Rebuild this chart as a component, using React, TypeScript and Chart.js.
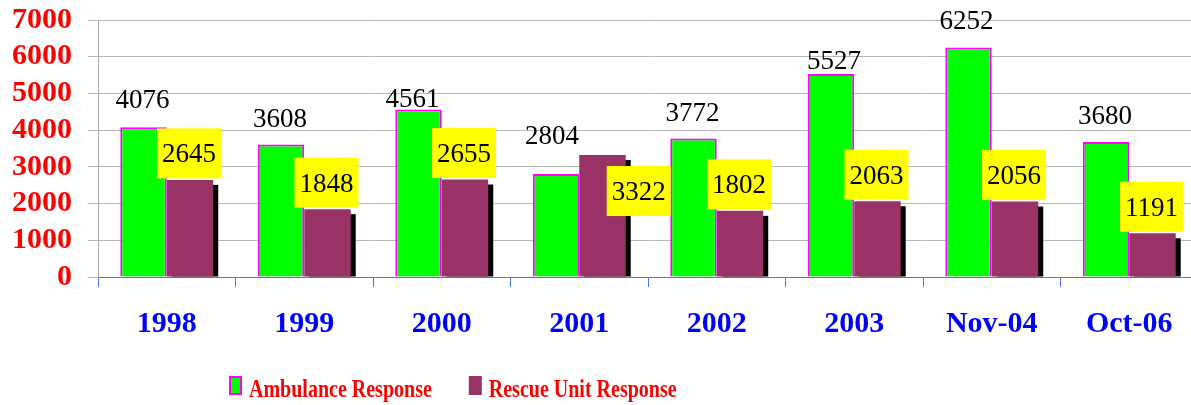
import React, { useEffect, useRef } from 'react';
import { Chart, registerables } from 'chart.js';

Chart.register(...registerables);

// ---- data ----
const categories = ['1998', '1999', '2000', '2001', '2002', '2003', 'Nov-04', 'Oct-06'];
const ambulanceValues = [4076, 3608, 4561, 2804, 3772, 5527, 6252, 3680];
const rescueValues = [2645, 1848, 2655, 3322, 1802, 2063, 2056, 1191];
const seriesNames = ['Ambulance Response', 'Rescue Unit Response'];
const yTickValues = [0, 1000, 2000, 3000, 4000, 5000, 6000, 7000];

// ---- label placement tweaks (pixels / side), kept apart from the data ----
const ambLabelLift = [19, 18, 3, 30, 18, 5, 18, 18];
const ambLabelShift = [-1, -1, -6, -4, -1, 3, -2, -1];
const rescueLabelSide = ['above', 'above', 'above', 'right', 'above', 'above', 'above', 'above'];

const SERIF = '"Liberation Serif", "Times New Roman", serif';
const GREEN = '#00FF00';
const MAGENTA = '#FF00FF';
const MAROON = '#993366';
const YELLOW = '#FFFF00';

export default function App() {
  const ref = useRef<HTMLCanvasElement>(null);

  useEffect(() => {
    document.body.style.margin = '0';
    document.body.style.overflow = 'hidden';
    const canvas = ref.current!;

    const shadowPlugin = {
      id: 'barShadow',
      beforeDatasetDraw(chart: any, args: any) {
        if (args.index !== 1) return;
        const ctx = chart.ctx;
        const meta = chart.getDatasetMeta(1);
        ctx.save();
        ctx.fillStyle = '#000000';
        meta.data.forEach((bar: any) => {
          const { x, y, base, width } = bar.getProps(['x', 'y', 'base', 'width'], true);
          ctx.fillRect(x - width / 2 + 5, y + 5, width, base - y - 5);
        });
        ctx.restore();
      },
    };

    const labelPlugin = {
      id: 'valueLabels',
      afterDatasetsDraw(chart: any) {
        const ctx = chart.ctx;
        ctx.save();
        ctx.font = `27px ${SERIF}`;
        ctx.textAlign = 'center';
        ctx.textBaseline = 'alphabetic';
        const m0 = chart.getDatasetMeta(0);
        m0.data.forEach((bar: any, i: number) => {
          const { x, y } = bar.getProps(['x', 'y'], true);
          ctx.fillStyle = '#000000';
          ctx.fillText(String(ambulanceValues[i]), x + ambLabelShift[i], y - ambLabelLift[i]);
        });
        const m1 = chart.getDatasetMeta(1);
        m1.data.forEach((bar: any, i: number) => {
          const { x, y, width } = bar.getProps(['x', 'y', 'width'], true);
          const text = String(rescueValues[i]);
          const tw = ctx.measureText(text).width;
          const bw = tw + 10;
          const bh = 50;
          let bx: number, by: number;
          if (rescueLabelSide[i] === 'right') {
            bx = x + width / 2 - 19;
            by = y + 11;
          } else {
            bx = x - bw / 2 - 1;
            by = y - 1.5 - bh;
          }
          ctx.fillStyle = YELLOW;
          ctx.fillRect(bx, by, bw, bh);
          ctx.fillStyle = '#000000';
          ctx.fillText(text, bx + bw / 2, by + bh / 2 + 9);
        });
        ctx.restore();
      },
    };

    const legendPlugin = {
      id: 'customLegend',
      afterDraw(chart: any) {
        const ctx = chart.ctx;
        const colors = [GREEN, MAROON];
        let lx = 229;
        const top = 376;
        ctx.save();
        seriesNames.forEach((name, i) => {
          ctx.fillStyle = colors[i];
          ctx.fillRect(lx, top, 13, 19);
          if (i === 0) {
            ctx.strokeStyle = MAGENTA;
            ctx.lineWidth = 2;
            ctx.strokeRect(lx + 1, top + 1, 11, 17);
          }
          ctx.font = `bold 20px ${SERIF}`;
          const tx = lx + 20;
          ctx.save();
          ctx.translate(tx, 397);
          ctx.scale(1, 1.3);
          ctx.fillStyle = '#FF0000';
          ctx.textAlign = 'left';
          ctx.textBaseline = 'alphabetic';
          ctx.fillText(name, 0, 0);
          ctx.restore();
          lx = tx + ctx.measureText(name).width + 37;
        });
        ctx.restore();
      },
    };

    const chart = new Chart(canvas, {
      type: 'bar',
      data: {
        labels: categories,
        datasets: [
          {
            label: seriesNames[0],
            data: ambulanceValues,
            backgroundColor: GREEN,
            borderColor: MAGENTA,
            borderWidth: 2,
            barPercentage: 1,
            categoryPercentage: 0.676,
          },
          {
            label: seriesNames[1],
            data: rescueValues,
            backgroundColor: MAROON,
            borderWidth: 0,
            barPercentage: 1,
            categoryPercentage: 0.676,
          },
        ],
      },
      options: {
        animation: false,
        responsive: false,
        layout: { padding: { left: 12, top: 20, right: 2, bottom: 64 } },
        plugins: {
          legend: { display: false },
          tooltip: { enabled: false },
        },
        scales: {
          x: {
            afterFit: (axis: any) => {
              axis.paddingLeft = 0;
              axis.paddingRight = 0;
              axis.height = 64;
            },
            grid: {
              offset: true,
              drawOnChartArea: false,
              drawTicks: true,
              tickLength: 10,
              color: '#4d70f0',
            },
            border: { color: '#4d70f0', width: 1 },
            ticks: {
              color: '#0000FF',
              font: { family: SERIF, size: 30, weight: 'bold' },
              padding: 19,
              maxRotation: 0,
              autoSkip: false,
            },
          },
          y: {
            min: 0,
            max: 7000,
            afterBuildTicks: (axis: any) => {
              axis.ticks = yTickValues.map((v) => ({ value: v }));
            },
            afterFit: (axis: any) => {
              axis.paddingTop = 0;
              axis.paddingBottom = 0;
              axis.width = 86;
            },
            grid: { color: '#b8b8b8', tickLength: 10 },
            border: { color: '#a8a8a8' },
            ticks: {
              color: '#FF0000',
              font: { family: SERIF, size: 30, weight: 'bold' },
              padding: 16,
              autoSkip: false,
              callback: (v: any) => String(v),
            },
          },
        },
      },
      plugins: [shadowPlugin, labelPlugin, legendPlugin],
    });

    return () => chart.destroy();
  }, []);

  return <canvas ref={ref} width={1200} height={405} style={{ display: 'block' }} />;
}
